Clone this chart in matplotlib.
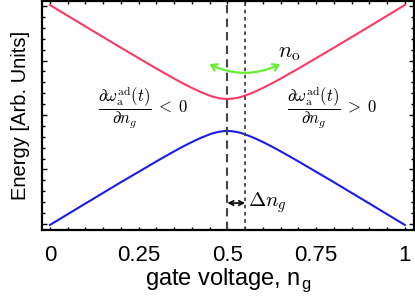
import matplotlib
matplotlib.use("Agg")
import matplotlib.pyplot as plt
from matplotlib.patches import FancyArrowPatch
from matplotlib.ticker import MultipleLocator

plt.rcParams['font.family'] = ['Liberation Sans', 'DejaVu Sans']
plt.rcParams['mathtext.fontset'] = 'cm'

# energy levels (arb. units, centre of the gap = 0)
ng = [0.0, 0.1, 0.2, 0.3, 0.35, 0.375, 0.4, 0.425, 0.45, 0.4625, 0.475, 0.4875, 0.5,
      0.5125, 0.525, 0.5375, 0.55, 0.575, 0.6, 0.625, 0.65, 0.7, 0.8, 0.9, 1.0]
upper = [6.87, 5.53, 4.20, 2.90, 2.27, 1.97, 1.69, 1.43, 1.21, 1.12, 1.056, 1.014, 1.0,
         1.014, 1.056, 1.12, 1.21, 1.43, 1.69, 1.97, 2.27, 2.90, 4.20, 5.53, 6.87]
lower = [-6.87, -5.53, -4.20, -2.90, -2.27, -1.97, -1.69, -1.43, -1.21, -1.12, -1.056, -1.014, -1.0,
         -1.014, -1.056, -1.12, -1.21, -1.43, -1.69, -1.97, -2.27, -2.90, -4.20, -5.53, -6.87]

ng_sweet = 0.5
ng_offset = 0.55
xticks = [0, 0.25, 0.5, 0.75, 1]
xticklabels = ['0', '0.25', '0.5', '0.75', '1']

fig = plt.figure(figsize=(4.15, 3.0), dpi=100)
ax = fig.add_axes([0.101, 0.233, 0.896, 0.764])

ax.plot(ng, upper, color='#fa3a66', lw=1.5)
ax.plot(ng, lower, color='#1c1ce8', lw=1.5)

ax.axvline(ng_sweet, color='#444444', lw=1.5, ls=(0, (4, 2.5)))
ax.axvline(ng_offset, color='#444444', lw=1.3, ls=(0, (2, 2)))

# green double arrow for n_o
arr = FancyArrowPatch((0.442, 3.25), (0.656, 3.25), connectionstyle='arc3,rad=0.25',
                      color='#66ee33', lw=1.6)
arr.set_arrowstyle('<->', head_length=4, head_width=2.5)
ax.add_patch(arr)
ax.text(0.675, 3.9, r'$n_\mathrm{o}$', fontsize=16, ha='center', va='center')

ax.text(0.262, 0.45, r'$\dfrac{\partial\omega_\mathrm{a}^\mathrm{ad}(t)}{\partial n_g}\;<\;0$',
        fontsize=12, ha='center', va='center')
ax.text(0.795, 0.45, r'$\dfrac{\partial\omega_\mathrm{a}^\mathrm{ad}(t)}{\partial n_g}\;>\;0$',
        fontsize=12, ha='center', va='center')

ax.annotate('', xy=(ng_sweet, -5.5), xytext=(ng_offset, -5.5),
            arrowprops=dict(arrowstyle='<->', color='black', lw=1.2, shrinkA=0, shrinkB=0,
                            mutation_scale=8))
ax.text(0.558, -5.5, r'$\Delta n_g$', fontsize=15, ha='left', va='center')

ax.set_xlim(-0.0225, 1.025)
ax.set_ylim(-7.19, 7.125)
ax.set_xticks(xticks)
ax.set_xticklabels(xticklabels)
ax.xaxis.set_minor_locator(MultipleLocator(0.05))
ax.yaxis.set_major_locator(MultipleLocator(3.4))
ax.yaxis.set_minor_locator(MultipleLocator(0.68))
ax.set_yticklabels([])
ax.tick_params(which='both', direction='in', top=True, right=True)
ax.tick_params(axis='x', labelsize=16, pad=11)
ax.tick_params(which='major', length=3.5, width=1)
ax.tick_params(which='minor', length=2.5, width=1)
ax.tick_params(axis='x', which='major', length=2.5)
for s in ax.spines.values():
    s.set_linewidth(1.6)

ax.set_xlabel(r'gate voltage, n$_\mathregular{g}$', fontsize=17, labelpad=0)
ax.set_ylabel('Energy [Arb. Units]', fontsize=14.5, labelpad=5)

fig.savefig('out.png', dpi=100)
